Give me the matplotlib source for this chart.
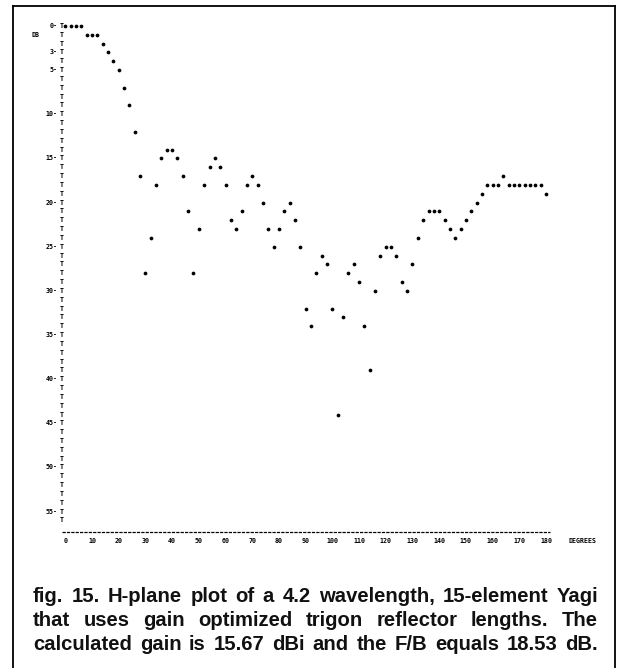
import matplotlib
matplotlib.use("Agg")
import matplotlib.pyplot as plt
from matplotlib.lines import Line2D

# H-plane pattern of the 15-element Yagi: level below the main lobe (dB),
# printed every 2 degrees from 0 to 180
degrees = list(range(0, 182, 2))
db_down = [0, 0, 0, 0, 1, 1, 1, 2, 3, 4,       # 0-18
           5, 7, 9, 12, 17, 28, 24, 18, 15, 14,   # 20-38
           14, 15, 17, 21, 28, 23, 18, 16, 15, 16,  # 40-58
           18, 22, 23, 21, 18, 17, 18, 20, 23, 25,  # 60-78
           23, 21, 20, 22, 25, 32, 34, 28, 26, 27,  # 80-98
           32, 44, 33, 28, 27, 29, 34, 39, 30, 26,  # 100-118
           25, 25, 26, 29, 30, 27, 24, 22, 21, 21,  # 120-138
           21, 22, 23, 24, 23, 22, 21, 20, 19, 18,  # 140-158
           18, 18, 17, 18, 18, 18, 18, 18, 18, 18,  # 160-178
           19]                                      # 180

y_labels = [0, 3, 5, 10, 15, 20, 25, 30, 35, 40, 45, 50, 55]
x_labels = list(range(0, 190, 10))

caption = ["fig. 15. H-plane plot of a 4.2 wavelength, 15-element Yagi",
           "that uses gain optimized trigon reflector lengths. The",
           "calculated gain is 15.67 dBi and the F/B equals 18.53 dB."]

W, H = 622, 668
fig = plt.figure(figsize=(W / 100, H / 100), dpi=100)

# pixel layout of the printer plot
X0, XS = 65.3, 2.6706   # px at 0 deg, px per degree
Y0, YS = 26.0, 8.83     # px at 0 dB, px per dB
xmin, xmax = -20, 200
ymin, ymax = -3, 60
lpx, rpx = X0 + xmin * XS, X0 + xmax * XS
tpx, bpx = Y0 + ymin * YS, Y0 + ymax * YS
ax = fig.add_axes([lpx / W, 1 - bpx / H, (rpx - lpx) / W, (bpx - tpx) / H])
ax.set_xlim(xmin, xmax)
ax.set_ylim(ymax, ymin)
ax.axis("off")

mono = dict(family="DejaVu Sans Mono", fontweight="bold", fontsize=4.8,
            color="black")
axis_x = -1.35
axis_y = 57.3

# vertical axis made of printer characters
for r in range(0, 57):
    ax.text(axis_x, r, "T", ha="center", va="center", **mono)
for v in y_labels:
    ax.text(axis_x - 1.6, v, "%d-" % v, ha="right", va="center", **mono)
ax.text(-11.3, 1, "DB", ha="center", va="center", **mono)

# horizontal axis
ax.plot([axis_x, 181.5], [axis_y, axis_y], color="black", lw=0.9,
        dashes=(2.6, 0.9), solid_capstyle="butt")
for v in x_labels:
    ax.text(v, 58.3, str(v), ha="center", va="center", **mono)
ax.text(193.8, 58.3, "DEGREES", ha="center", va="center", **mono)

# pattern points
ax.plot(degrees, db_down, "o", color="black", markersize=2.7,
        markeredgewidth=0, clip_on=False)

# frame around the figure
def px_line(xs, ys):
    fig.add_artist(Line2D([x / W for x in xs], [1 - y / H for y in ys],
                          color="black", lw=1.3))

px_line([12.5, 12.5], [6, H])
px_line([12.5, 615], [6, 6])
px_line([615, 615], [6, H])

# caption, justified between the margins
cap_kw = dict(family="Liberation Sans", fontweight="bold", fontsize=14.6,
              color="#111111", va="center", ha="left")
renderer = fig.canvas.get_renderer()
left, right = 33, 598
for line, y in zip(caption, [597, 621, 645]):
    words = line.split()
    texts = [fig.text(0, 0, w, **cap_kw) for w in words]
    widths = [t.get_window_extent(renderer).width for t in texts]
    gap = (right - left - sum(widths)) / (len(words) - 1)
    x = left
    for t, w in zip(texts, widths):
        t.set_position((x / W, 1 - y / H))
        x += w + gap

fig.savefig("out.png", dpi=100)
